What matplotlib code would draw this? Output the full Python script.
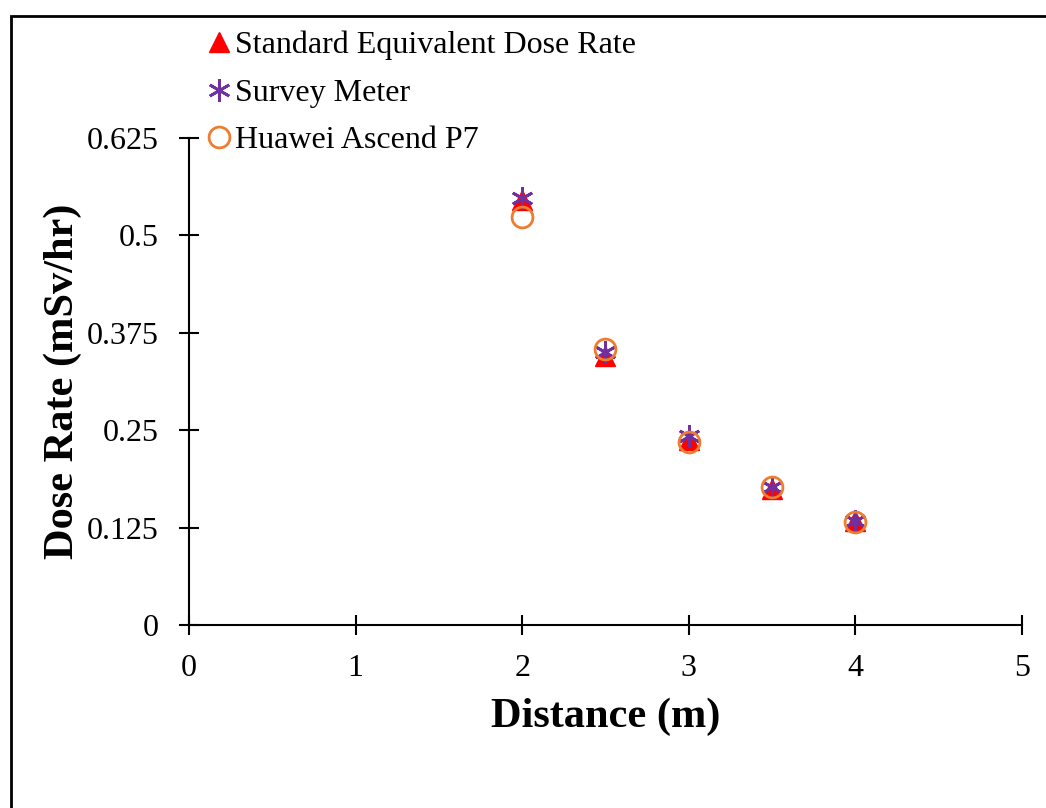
# Dose rate vs distance scatter
import matplotlib.pyplot as plt
from matplotlib.patches import Rectangle

distance = [2, 2.5, 3, 3.5, 4]
standard_rate = [0.545, 0.345, 0.238, 0.175, 0.133]
survey_rate = [0.548, 0.350, 0.242, 0.177, 0.134]
huawei_rate = [0.524, 0.354, 0.235, 0.177, 0.132]

x_ticks = [0, 1, 2, 3, 4, 5]
y_ticks = [0, 0.125, 0.25, 0.375, 0.5, 0.625]
y_tick_labels = ['0', '0.125', '0.25', '0.375', '0.5', '0.625']

plt.rcParams['font.family'] = ['Liberation Serif', 'DejaVu Serif']

fig = plt.figure(figsize=(10.46, 8.08), dpi=100)
ax = fig.add_axes([0.1807, 0.2265, 0.977 - 0.1807, 0.8292 - 0.2265])

ax.plot(distance, standard_rate, ls='none', marker='^', ms=14, color='#FF0000',
        label='Standard Equivalent Dose Rate', zorder=3)
ax.plot(distance, survey_rate, ls='none', marker=(6, 2, 0), ms=16, mew=2,
        color='#7030A0', label='Survey Meter', zorder=4)
ax.plot(distance, huawei_rate, ls='none', marker='o', ms=15, mew=2,
        mfc='none', mec='#ED7D31', label='Huawei Ascend P7', zorder=5)

ax.set_xlim(0, 5)
ax.set_ylim(0, 0.625)
ax.set_xticks(x_ticks)
ax.set_yticks(y_ticks)
ax.set_yticklabels(y_tick_labels)
ax.tick_params(direction='inout', length=14, width=1.5, labelsize=23)
ax.tick_params(axis='y', pad=15)
ax.tick_params(axis='x', pad=14)
for side in ['top', 'right']:
    ax.spines[side].set_visible(False)
for side in ['left', 'bottom']:
    ax.spines[side].set_linewidth(1.5)

ax.set_xlabel('Distance (m)', fontsize=30.5, fontweight='bold', labelpad=10)
ax.set_ylabel('Dose Rate (mSv/hr)', fontsize=30.5, fontweight='bold', labelpad=3)

ax.legend(loc='upper left', bbox_to_anchor=(209 / 1046, 1 - 31 / 808),
          bbox_transform=fig.transFigure, frameon=False, fontsize=23,
          handlelength=0.6, handletextpad=0.2, labelspacing=0.56,
          borderpad=0, borderaxespad=0, markerscale=1.0)

# outer chart frame (runs off the right and bottom edges)
fig.patches.append(Rectangle((11 / 1046, -0.1), 1.2, 1 - 16 / 808 + 0.1,
                             transform=fig.transFigure, fill=False,
                             lw=2, ec='black'))

fig.savefig('out.png', dpi=100)
